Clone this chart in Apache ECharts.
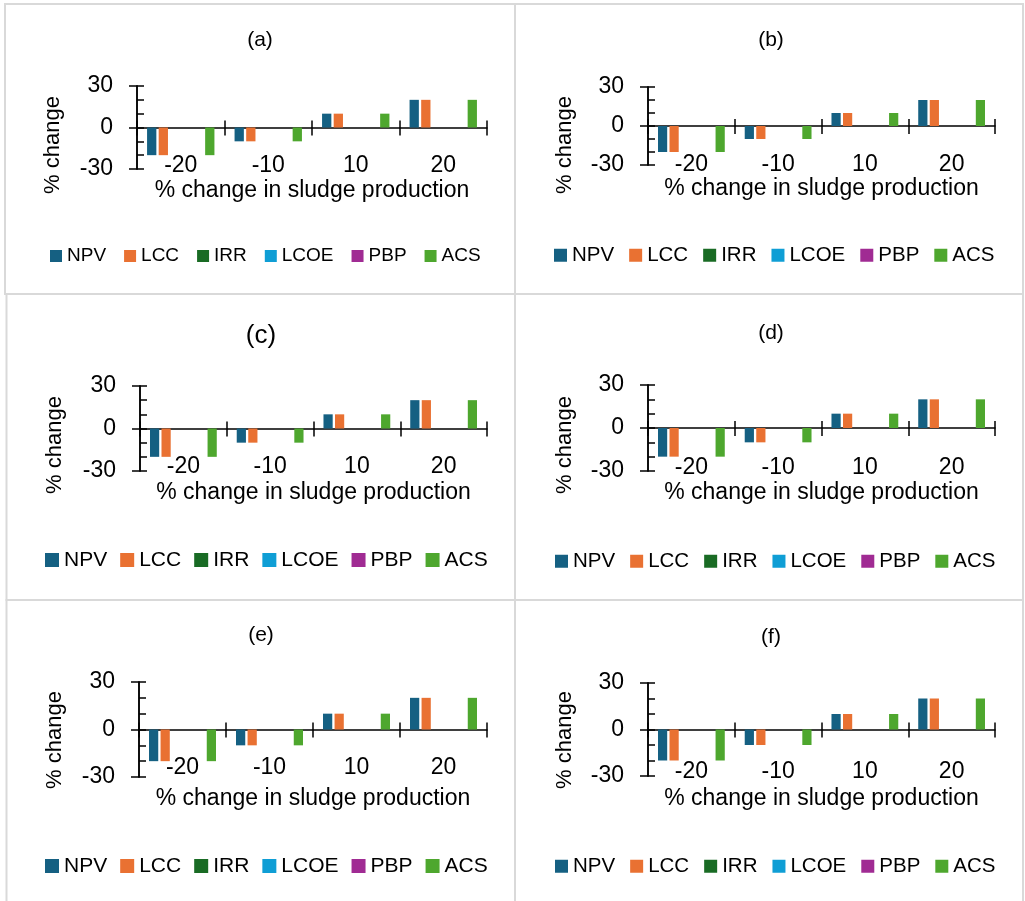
<!DOCTYPE html>
<html><head><meta charset="utf-8">
<script src="https://cdn.jsdelivr.net/npm/echarts@6/dist/echarts.min.js"></script>
<style>html,body{margin:0;padding:0;background:#fff}#c{width:1025px;height:901px}</style>
</head><body><div id="c"></div>
<script>
// ---- data ----
const categories = ['-20', '-10', '10', '20'];
const seriesNames = ['NPV', 'LCC', 'IRR', 'LCOE', 'PBP', 'ACS'];
const npvValues = [-20, -10, 10, 20];
const lccValues = [-20, -10, 10, 20];
const irrValues = [0, 0, 0, 0];
const lcoeValues = [0, 0, 0, 0];
const pbpValues = [0, 0, 0, 0];
const acsValues = [-20, -10, 10, 20];
const yMin = -30, yMax = 30, yMajor = 30, yMinor = 10;
const panelTitles = ['(a)', '(b)', '(c)', '(d)', '(e)', '(f)'];
const xAxisTitle = '% change in sludge production';
const yAxisTitle = '% change';

// ---- style / layout ----
const seriesColors = ['#156082', '#E97132', '#196B24', '#0F9ED5', '#A02B93', '#4EA72E'];
const FONT = '"Liberation Sans", Arial, sans-serif';
const panels = [
  {box:[5,4,510,290],   grid:[137,86,487,169],  title:[260,41,21], legend:[50,256,19,12,18],  ytitle:[53,145],  xname:10, xlab:-15},
  {box:[515,4,508,290], grid:[648,87,995,165],  title:[771,41,21], legend:[554,255,20.5,13,15], ytitle:[565,145], xname:10, xlab:-12},
  {box:[6.5,294,508.5,306], grid:[140,386,487,471], title:[261,337,26], legend:[45,560,21,14,13], ytitle:[55,445], xname:10, xlab:-16},
  {box:[515,294,508,306], grid:[648,385,995,471], title:[771,334,21], legend:[555,561,20.5,13,15], ytitle:[565,445], xname:10, xlab:-15},
  {box:[6.5,600,508.5,310], grid:[139,682,487,777], title:[261,636,21], legend:[45,866,21,14,13], ytitle:[55,740], xname:10, xlab:-21},
  {box:[515,600,508,310], grid:[648,683,995,776], title:[771,638,21], legend:[555,866,20.5,13,15], ytitle:[565,740], xname:11, xlab:-16}
];
const valuesByName = [npvValues, lccValues, irrValues, lcoeValues, pbpValues, acsValues];

const grid = [], xAxis = [], yAxis = [], series = [], title = [], legend = [], graphic = [];
const axisColor = '#000';
panels.forEach((p, i) => {
  const [gl, gt, gr, gb] = p.grid;
  grid.push({left: gl, top: gt, width: gr - gl, height: gb - gt, containLabel: false});
  // main x axis: line on zero, ticks down, labels low
  xAxis.push({
    type: 'category', gridIndex: i, data: categories, position: 'bottom',
    axisLine: {show: true, onZero: true, onZeroAxisIndex: 2 * i, lineStyle: {color: axisColor, width: 1.5}},
    axisTick: {show: true, inside: false, length: 8, lineStyle: {color: axisColor, width: 1.5}},
    axisLabel: {show: true, margin: p.xlab, fontSize: 23, color: '#000', fontFamily: FONT},
    name: xAxisTitle, nameLocation: 'middle', nameGap: p.xname,
    nameTextStyle: {fontSize: 23, color: '#000', fontFamily: FONT},
    splitLine: {show: false}
  });
  // second x axis: ticks up (crossing)
  xAxis.push({
    type: 'category', gridIndex: i, data: categories, position: 'top',
    axisLine: {show: false, onZero: true, onZeroAxisIndex: 2 * i},
    axisTick: {show: true, inside: false, length: 7, lineStyle: {color: axisColor, width: 1.5}},
    axisLabel: {show: false}, splitLine: {show: false}
  });
  yAxis.push({
    type: 'value', gridIndex: i, min: yMin, max: yMax, interval: yMajor, position: 'left',
    axisLine: {show: true, onZero: false, lineStyle: {color: axisColor, width: 1.5}},
    axisTick: {show: true, inside: false, length: 8, lineStyle: {color: axisColor, width: 1.5}},
    axisLabel: {show: true, margin: 24, fontSize: 23, color: '#000', fontFamily: FONT},
    splitLine: {show: false}
  });
  yAxis.push({
    type: 'value', gridIndex: i, min: yMin, max: yMax, interval: yMinor, position: 'left',
    axisLine: {show: true, onZero: false, lineStyle: {color: axisColor, width: 1.5}},
    axisTick: {show: true, inside: true, length: 7, lineStyle: {color: axisColor, width: 1.5}},
    axisLabel: {show: false}, splitLine: {show: false}
  });
  seriesNames.forEach((n, k) => {
    series.push({
      type: 'bar', name: n, xAxisIndex: 2 * i, yAxisIndex: 2 * i,
      data: valuesByName[k], itemStyle: {color: seriesColors[k]},
      barGap: '25%', barCategoryGap: '23%', silent: true
    });
  });
  const [tx, ty, tfs] = p.title;
  title.push({
    text: panelTitles[i], left: tx, top: ty - tfs / 2 - 1, textAlign: 'center', padding: 0,
    textStyle: {fontSize: tfs, fontWeight: 'normal', color: '#000', fontFamily: FONT}
  });
  const [lx, ly, lfs, lic, lgap] = p.legend;
  legend.push({
    data: seriesNames, left: lx, top: ly - Math.max(lfs, lic) / 2, padding: 0,
    orient: 'horizontal', icon: 'rect', itemWidth: lic, itemHeight: lic, itemGap: lgap,
    selectedMode: false,
    textStyle: {fontSize: lfs, color: '#000', fontFamily: FONT}
  });
  const [bx, by, bw, bh] = p.box;
  graphic.push({
    type: 'rect', silent: true, z: -1,
    shape: {x: bx, y: by, width: bw, height: bh},
    style: {fill: 'none', stroke: '#d9d9d9', lineWidth: 2}
  });
  graphic.push({
    type: 'text', x: p.ytitle[0], y: p.ytitle[1], rotation: Math.PI / 2, silent: true,
    style: {text: yAxisTitle, font: '22px ' + FONT, fill: '#000',
      align: 'center', verticalAlign: 'middle', textAlign: 'center', textVerticalAlign: 'middle'}
  });
});

const chart = echarts.init(document.getElementById('c'), null, {renderer: 'canvas'});
chart.setOption({
  animation: false,
  backgroundColor: '#fff',
  title, legend, grid, xAxis, yAxis, series, graphic
});
</script>
</body></html>
